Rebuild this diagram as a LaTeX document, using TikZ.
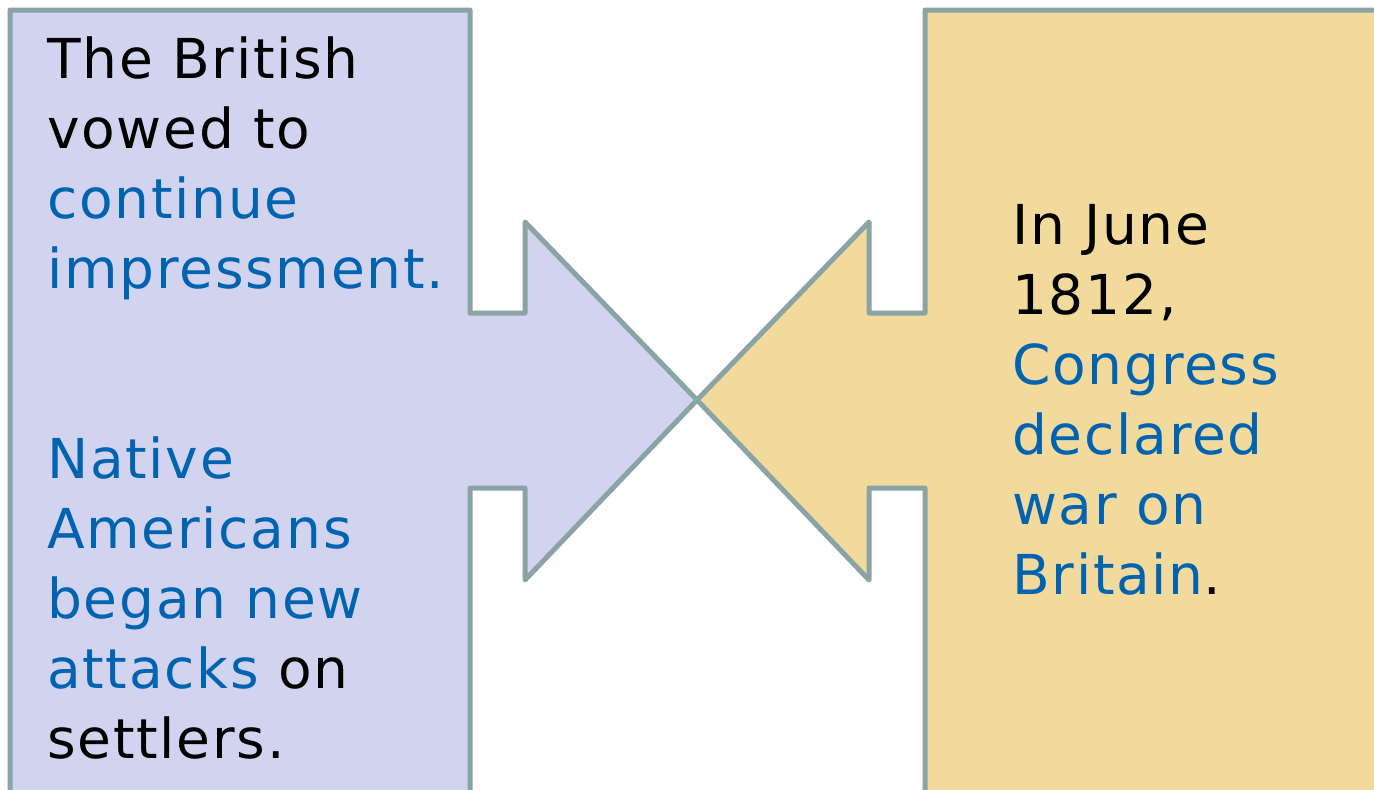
\documentclass[tikz,border=0pt]{standalone}
\usepackage{fontspec}
\setmainfont[LetterSpace=3.2]{DejaVu Sans}
\definecolor{lav}{RGB}{210,211,239}
\definecolor{tan}{RGB}{242,217,156}
\definecolor{edge}{RGB}{138,164,166}
\definecolor{hl}{RGB}{0,99,176}
\begin{document}
\begin{tikzpicture}[x=1pt,y=-1pt,
  shapeline/.style={draw=edge,line width=5pt,line join=round},
  txt/.style={anchor=base west,inner sep=0pt,font=\fontsize{55}{70}\selectfont,text=black}]
\useasboundingbox (0,0) rectangle (1374,790);
\fill[white] (0,0) rectangle (1374,790);
% left arrow box
\path[shapeline,fill=lav] (10,820) -- (10,10) -- (470,10) -- (470,313) -- (525,313) -- (525,222) -- (697,400) -- (525,580) -- (525,488) -- (470,488) -- (470,820) -- cycle;
% right arrow box
\path[shapeline,fill=tan] (1400,10) -- (925,10) -- (925,313) -- (869,313) -- (869,222) -- (697,400) -- (869,580) -- (869,488) -- (925,488) -- (925,820) -- (1400,820) -- cycle;
% left text
\node[txt] (a1) at (47,78) {The British};
\node[txt] (a2) at (47,148) {vowed to};
\node[txt,text=hl] (a3) at (47,218) {continue};
\node[txt,text=hl] (a4) at (47,288) {impressment.};
\node[txt,text=hl] (b1) at (47,478) {Native};
\node[txt,text=hl] (b2) at (47,548) {Americans};
\node[txt,text=hl] (b3) at (47,618) {began new};
\node[txt] (b4) at (47,688) {\textcolor{hl}{attacks} on};
\node[txt] (b5) at (47,758) {settlers.};
% right text
\node[txt] (c1) at (1012,244) {In June};
\node[txt] (c2) at (1012,314) {1812,};
\node[txt,text=hl] (c3) at (1012,384) {Congress};
\node[txt,text=hl] (c4) at (1012,454) {declared};
\node[txt,text=hl] (c5) at (1012,524) {war on};
\node[txt] (c6) at (1012,594) {\textcolor{hl}{Britain}.};
\end{tikzpicture}
\end{document}
